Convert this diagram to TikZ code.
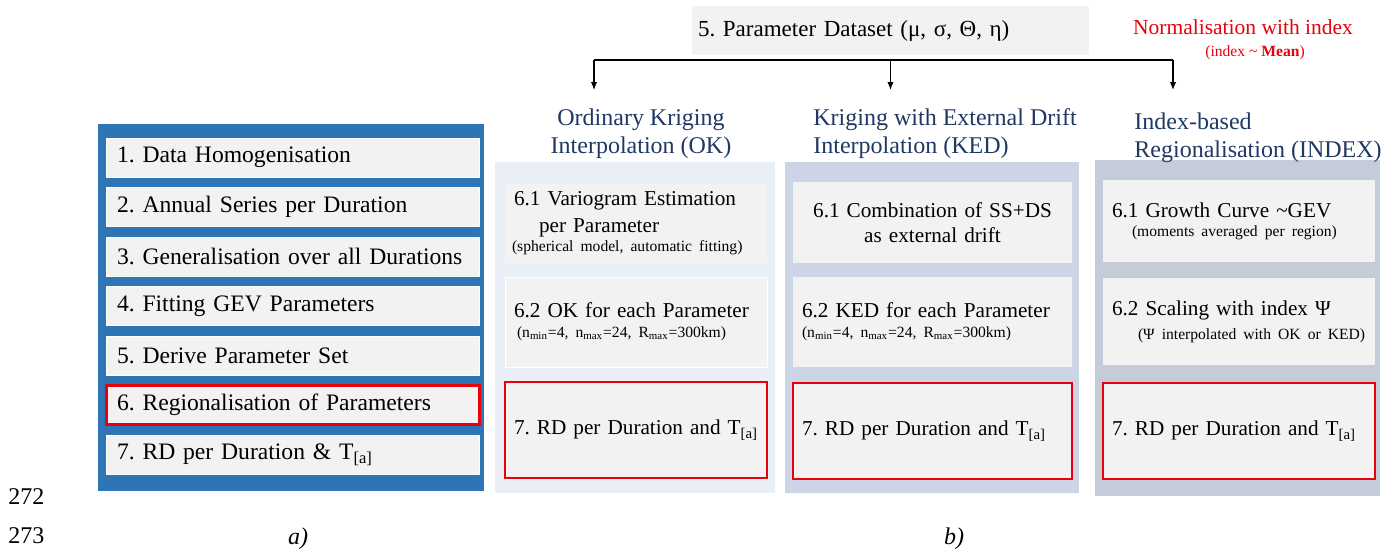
\documentclass[tikz,border=0pt]{standalone}
\usepackage{fontspec}
\setmainfont{Liberation Serif}
\usetikzlibrary{positioning,arrows.meta}

\definecolor{stepblue}{HTML}{2E75B6}
\definecolor{boxgrey}{HTML}{F2F2F2}
\definecolor{okfill}{HTML}{E9EEF7}
\definecolor{kedfill}{HTML}{CBD5E5}
\definecolor{idxfill}{HTML}{C5CCD9}
\definecolor{headnavy}{HTML}{1F3864}
\definecolor{markred}{HTML}{E8000B}

\newcommand{\smallnote}{\fontsize{7.8}{9.4}\selectfont}
\frenchspacing

\begin{document}
\begin{tikzpicture}[
    x=0.5pt, y=-0.5pt,
    node distance=5.25pt,
    panel/.style={
        rectangle,
        anchor=north west,
        inner sep=0pt,
        outer sep=0pt
    },
    stepbox/.style={
        rectangle,
        fill=boxgrey,
        draw=white,
        line width=0.5pt,
        outer sep=0pt,
        minimum width=186.5pt,
        minimum height=19.5pt,
        text width=175.5pt,
        inner xsep=5.5pt,
        align=left,
        font=\fontsize{11.8}{14}\selectfont
    },
    head/.style={
        text=headnavy,
        inner sep=0pt,
        font=\fontsize{12}{14}\selectfont
    },
    subbox/.style={
        rectangle,
        fill=boxgrey,
        outer sep=0pt,
        inner xsep=4.5pt,
        align=left,
        font=\fontsize{10.6}{13.5}\selectfont
    },
    okbox/.style={subbox, minimum width=131pt, text width=124pt, inner xsep=3.5pt},
    kedbox/.style={subbox, minimum width=139.5pt, text width=130.5pt},
    idxbox/.style={subbox, minimum width=136pt, text width=127pt},
    redline/.style={draw=markred, line width=0.6pt},
    flow/.style={line width=0.6pt, -{Latex[length=4pt,width=3.2pt]}}
]
\useasboundingbox (0,0) rectangle (1396,554);

% left column: workflow steps
\node[panel, fill=stepblue, minimum width=193pt, minimum height=183.5pt] (leftpanel) at (98,124) {};
\node[stepbox, anchor=north west] (s1) at (106,138) {1. Data Homogenisation};
\node[stepbox, below=of s1] (s2) {2. Annual Series per Duration};
\node[stepbox, below=of s2] (s3) {3. Generalisation over all Durations};
\node[stepbox, below=of s3] (s4) {4. Fitting GEV Parameters};
\node[stepbox, below=of s4] (s5) {5. Derive Parameter Set};
\node[stepbox, below=of s5, draw=markred, line width=1.5pt] (s6) {6. Regionalisation of Parameters};
\node[stepbox, below=of s6] (s7) {7. RD per Duration \& T\textsubscript{[a]}};

% parameter set and split into three methods
\node[rectangle, fill=boxgrey, anchor=north west, outer sep=0pt,
      minimum width=198.5pt, minimum height=24.5pt, text width=192.5pt,
      inner xsep=3pt, align=left, font=\fontsize{11.5}{14}\selectfont]
      (param) at (692,6) {5. Parameter Dataset (μ, σ, Θ, η)};
\coordinate[below=2.5pt of param] (fork);
\coordinate (okin) at (594,90);
\coordinate (kedin) at (fork |- okin);
\coordinate (idxin) at (1173,90);

\node[text=markred, align=center, anchor=north, inner sep=0pt,
      font=\fontsize{10.75}{13}\selectfont] (normnote) at (1243,19)
      {Normalisation with index\\[-2pt]{\smallnote\hspace*{12pt}(index \textasciitilde{} \textbf{Mean})}};

\draw[line width=0.6pt] (okin |- fork) -- (idxin |- fork);
\foreach \t in {okin,kedin,idxin}
    \draw[flow] (\t |- fork) -- (\t);

% method panels
\node[panel, fill=okfill, minimum width=140pt, minimum height=165.5pt] (okpanel) at (495,162) {};
\node[panel, fill=kedfill, minimum width=147pt, minimum height=165.5pt] (kedpanel) at (785,162) {};
\node[panel, fill=idxfill, minimum width=142.5pt, minimum height=168pt] (idxpanel) at (1095,160) {};

\node[head, align=center, anchor=north] (okhead) at (641,108) {Ordinary Kriging\\Interpolation (OK)};
\node[head, align=left, anchor=north west] (kedhead) at (813,108) {Kriging with External Drift\\Interpolation (KED)};
\node[head, align=left, anchor=north west] (idxhead) at (1134,112) {Index-based\\Regionalisation (INDEX)};

% ordinary kriging
\node[okbox, anchor=north west, minimum height=40pt] (ok1) at (505,183)
    {\hspace*{1pt}6.1 Variogram Estimation\\\hspace*{13.5pt}per Parameter\\[-4pt]\mbox{\smallnote(spherical model, automatic fitting)}};
\node[okbox, below=7pt of ok1, minimum height=45pt, draw=white, line width=0.5pt] (ok2)
    {\hspace*{1pt}6.2 OK for each Parameter\\[-3.5pt]\mbox{\smallnote\hspace*{2.5pt}(n\textsubscript{min}=4, n\textsubscript{max}=24, R\textsubscript{max}=300km)}};
\node[okbox, below=7.5pt of ok2, minimum height=48pt, redline] (ok3)
    {\hspace*{1pt}7. RD per Duration and T\textsubscript{[a]}};

% kriging with external drift
\node[kedbox, anchor=north west, minimum height=40.5pt, align=center] (ked1) at (793,182)
    {6.1 Combination of SS+DS\\[-1pt]as external drift};
\node[kedbox, below=7pt of ked1, minimum height=45pt] (ked2)
    {6.2 KED for each Parameter\\[-3.5pt]\mbox{\smallnote(n\textsubscript{min}=4, n\textsubscript{max}=24, R\textsubscript{max}=300km)}};
\node[kedbox, below=8pt of ked2, minimum height=48pt, redline] (ked3)
    {7. RD per Duration and T\textsubscript{[a]}};

% index-based regionalisation
\node[idxbox, anchor=north west, minimum height=41pt] (idx1) at (1103,180)
    {6.1 Growth Curve \textasciitilde GEV\\[-4pt]\mbox{\smallnote\hspace*{10pt}(moments averaged per region)}};
\node[idxbox, below=8pt of idx1, minimum height=43.5pt] (idx2)
    {6.2 Scaling with index Ψ\\[-1.5pt]\mbox{\smallnote\hspace*{13pt}(Ψ interpolated with OK or KED)}};
\node[idxbox, below=9pt of idx2, minimum height=48pt, redline] (idx3)
    {7. RD per Duration and T\textsubscript{[a]}};

% line numbers and panel captions
\node[anchor=base west, inner sep=0pt, font=\fontsize{12}{14}\selectfont] (ln272) at (8,504) {272};
\node[anchor=base west, inner sep=0pt, font=\fontsize{12}{14}\selectfont] (ln273) at (8,543) {273};
\node[anchor=base, inner sep=0pt, font=\fontsize{12}{14}\selectfont\itshape] (capa) at (298,544) {a)};
\node[anchor=base, inner sep=0pt, font=\fontsize{12}{14}\selectfont\itshape] (capb) at (954,544) {b)};

\end{tikzpicture}
\end{document}
